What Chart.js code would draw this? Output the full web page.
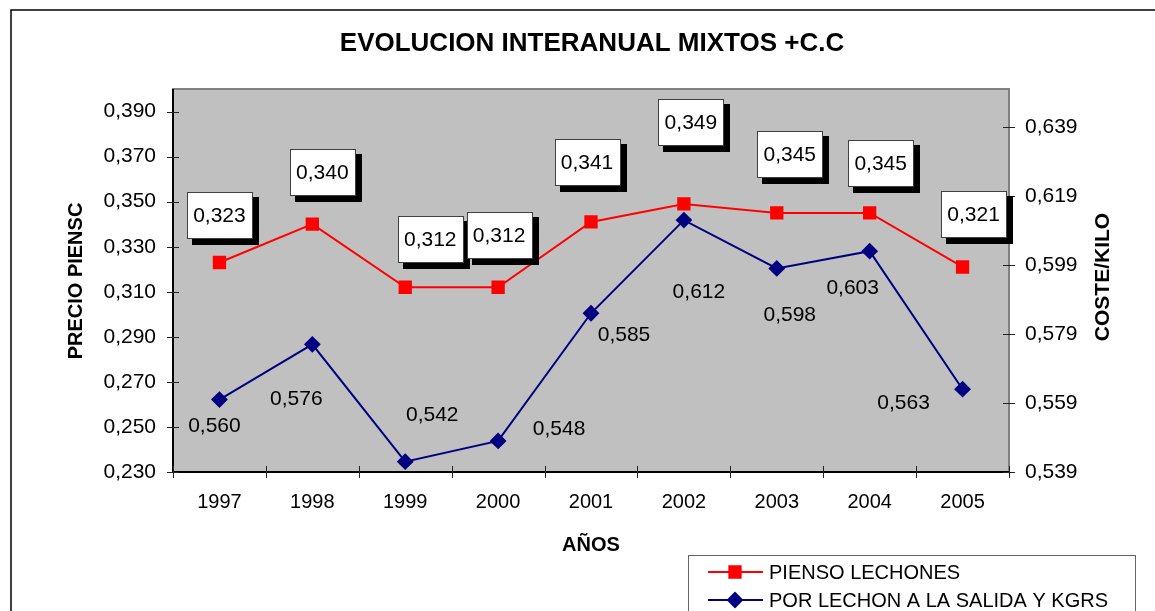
<!DOCTYPE html>
<html>
<head>
<meta charset="utf-8">
<script src="https://cdn.jsdelivr.net/npm/chart.js@4/dist/chart.umd.min.js"></script>
<style>
  html, body { margin: 0; padding: 0; background: #fff; }
  canvas { display: block; }
</style>
</head>
<body>
<canvas id="chart" width="1155" height="611"></canvas>
<script>
const years = ['1997', '1998', '1999', '2000', '2001', '2002', '2003', '2004', '2005'];
const piensoLechones = [0.323, 0.340, 0.312, 0.312, 0.341, 0.349, 0.345, 0.345, 0.321];
const porLechon = [0.560, 0.576, 0.542, 0.548, 0.585, 0.612, 0.598, 0.603, 0.563];
const leftTicks = [0.230, 0.250, 0.270, 0.290, 0.310, 0.330, 0.350, 0.370, 0.390];
const rightTicks = [0.539, 0.559, 0.579, 0.599, 0.619, 0.639];

const FONT = '"Liberation Sans", Arial, sans-serif';
const fmt = v => v.toFixed(3).replace('.', ',');

// manual label placement (offset from the point, px)
const boxOffsets = [[0, -47], [10, -52], [25, -48], [1, -52], [-4, -60], [7, -82], [13, -59], [11, -50], [11, -53]];
const textOffsets = [[-5, 27], [-16, 55], [27, -46], [61, -12], [33, 22], [15, 72], [13, 47], [-17, 37], [-59, 14]];

const frame = {
  id: 'frame',
  beforeDraw(c) {
    const ctx = c.ctx;
    const a = c.chartArea;
    ctx.save();
    ctx.fillStyle = '#fff';
    ctx.fillRect(0, 0, c.width, c.height);
    ctx.strokeStyle = '#000';
    ctx.lineWidth = 1.5;
    ctx.strokeRect(11, 10, 1300, 800);
    ctx.fillStyle = '#c0c0c0';
    ctx.fillRect(a.left, a.top, a.right - a.left, a.bottom - a.top);
    ctx.strokeStyle = '#808080';
    ctx.lineWidth = 2;
    ctx.strokeRect(a.left, a.top, a.right - a.left, a.bottom - a.top);
    ctx.restore();
  },
  beforeDatasetsDraw(c) {
    const ctx = c.ctx;
    const a = c.chartArea;
    const sy = c.scales.y, sy1 = c.scales.y1;
    ctx.save();
    ctx.strokeStyle = '#000';
    ctx.lineWidth = 2;
    ctx.beginPath();
    ctx.moveTo(a.left, a.top);
    ctx.lineTo(a.left, a.bottom);
    ctx.lineTo(a.right, a.bottom);
    ctx.stroke();
    ctx.lineWidth = 1;
    ctx.strokeStyle = '#222';
    ctx.beginPath();
    leftTicks.forEach(v => {
      const y = Math.round(sy.getPixelForValue(v)) + 0.5;
      ctx.moveTo(a.left - 6, y);
      ctx.lineTo(a.left + 6, y);
    });
    rightTicks.forEach(v => {
      const y = Math.round(sy1.getPixelForValue(v)) + 0.5;
      ctx.moveTo(a.right - 6, y);
      ctx.lineTo(a.right + 6, y);
    });
    const step = (a.right - a.left) / years.length;
    for (let i = 0; i <= years.length; i++) {
      const x = Math.round(a.left + i * step) + 0.5;
      ctx.moveTo(x, a.bottom - 6);
      ctx.lineTo(x, a.bottom + 6);
    }
    ctx.stroke();
    ctx.restore();
  },
  afterDatasetsDraw(c) {
    const ctx = c.ctx;
    ctx.save();
    ctx.font = '21px ' + FONT;
    ctx.textAlign = 'center';
    ctx.textBaseline = 'middle';
    c.getDatasetMeta(0).data.forEach((pt, i) => {
      const cx = pt.x + boxOffsets[i][0];
      const cy = pt.y + boxOffsets[i][1];
      const w = 65, h = 46;
      const x0 = Math.round(cx - w / 2), y0 = Math.round(cy - h / 2);
      ctx.fillStyle = '#000';
      ctx.fillRect(x0 + 5, y0 + 5, w + 2, h + 2);
      ctx.fillStyle = '#fff';
      ctx.fillRect(x0, y0, w, h);
      ctx.strokeStyle = '#404040';
      ctx.lineWidth = 1;
      ctx.strokeRect(x0 + 0.5, y0 + 0.5, w, h);
      ctx.fillStyle = '#000';
      ctx.fillText(fmt(piensoLechones[i]), cx, cy + 1);
    });
    c.getDatasetMeta(1).data.forEach((pt, i) => {
      ctx.fillStyle = '#000';
      ctx.fillText(fmt(porLechon[i]), pt.x + textOffsets[i][0], pt.y + textOffsets[i][1]);
    });
    ctx.restore();
  },
  afterDraw(c) {
    const ctx = c.ctx;
    ctx.save();
    ctx.fillStyle = '#000';
    ctx.textAlign = 'center';
    ctx.textBaseline = 'middle';
    ctx.font = 'bold 26px ' + FONT;
    ctx.fillText('EVOLUCION INTERANUAL MIXTOS +C.C', 592, 44);
    ctx.font = 'bold 20px ' + FONT;
    ctx.fillText('AÑOS', 591, 545);
    ctx.save();
    ctx.translate(76, 281);
    ctx.rotate(-Math.PI / 2);
    ctx.fillText('PRECIO PIENSC', 0, 0);
    ctx.restore();
    ctx.save();
    ctx.translate(1103, 277);
    ctx.rotate(-Math.PI / 2);
    ctx.font = 'bold 21px ' + FONT;
    ctx.fillText('COSTE/KILO', 0, 0);
    ctx.restore();

    // legend
    ctx.strokeStyle = '#666';
    ctx.lineWidth = 1;
    ctx.strokeRect(688.5, 555.5, 447, 80);
    const items = [
      { label: 'PIENSO LECHONES', ds: c.data.datasets[0], y: 572 },
      { label: 'POR LECHON A LA SALIDA Y KGRS', ds: c.data.datasets[1], y: 600 }
    ];
    items.forEach(it => {
      ctx.strokeStyle = it.ds.borderColor;
      ctx.lineWidth = 2;
      ctx.beginPath();
      ctx.moveTo(708, it.y);
      ctx.lineTo(763, it.y);
      ctx.stroke();
      ctx.fillStyle = it.ds.borderColor;
      Chart.helpers.drawPoint(ctx, { pointStyle: it.ds.pointStyle, radius: it.ds.pointRadius, borderWidth: 1 }, 735, it.y);
      ctx.fill();
      ctx.fillStyle = '#000';
      ctx.textAlign = 'left';
      ctx.font = '20px ' + FONT;
      ctx.fillText(it.label, 769, it.y + 1);
    });
    ctx.restore();
  }
};

new Chart(document.getElementById('chart'), {
  type: 'line',
  data: {
    labels: years,
    datasets: [{
      label: 'PIENSO LECHONES',
      data: piensoLechones,
      yAxisID: 'y',
      borderColor: '#ff0000',
      backgroundColor: '#ff0000',
      borderWidth: 2,
      pointStyle: 'rect',
      pointRadius: 8,
      pointBackgroundColor: '#ff0000',
      pointBorderColor: '#ff0000',
      tension: 0
    }, {
      label: 'POR LECHON A LA SALIDA Y KGRS',
      data: porLechon,
      yAxisID: 'y1',
      borderColor: '#000080',
      backgroundColor: '#000080',
      borderWidth: 2,
      pointStyle: 'rectRot',
      pointRadius: 7,
      pointBackgroundColor: '#000080',
      pointBorderColor: '#000080',
      tension: 0
    }]
  },
  options: {
    responsive: false,
    animation: false,
    devicePixelRatio: 1,
    layout: { padding: { top: 89, left: 0, right: 0, bottom: 0 } },
    plugins: {
      legend: { display: false },
      title: { display: false },
      tooltip: { enabled: false }
    },
    scales: {
      x: {
        type: 'category',
        offset: true,
        grid: { display: false, drawTicks: false },
        border: { display: false },
        ticks: {
          color: '#000', font: { family: FONT, size: 20 },
          padding: 18, autoSkip: false, maxRotation: 0
        },
        afterFit: s => { s.height = 139; }
      },
      y: {
        position: 'left',
        min: 0.23,
        max: 0.40,
        grid: { display: false, drawTicks: false },
        border: { display: false },
        afterBuildTicks: s => { s.ticks = leftTicks.map(v => ({ value: v })); },
        ticks: {
          color: '#000', font: { family: FONT, size: 21 }, padding: 17,
          callback: v => fmt(v)
        },
        afterFit: s => { s.width = 173; }
      },
      y1: {
        position: 'right',
        min: 0.539,
        max: 0.65,
        grid: { display: false, drawTicks: false },
        border: { display: false },
        afterBuildTicks: s => { s.ticks = rightTicks.map(v => ({ value: v })); },
        ticks: {
          color: '#000', font: { family: FONT, size: 21 }, padding: 16,
          callback: v => fmt(v)
        },
        afterFit: s => { s.width = 146; }
      }
    }
  },
  plugins: [frame]
});
</script>
</body>
</html>
